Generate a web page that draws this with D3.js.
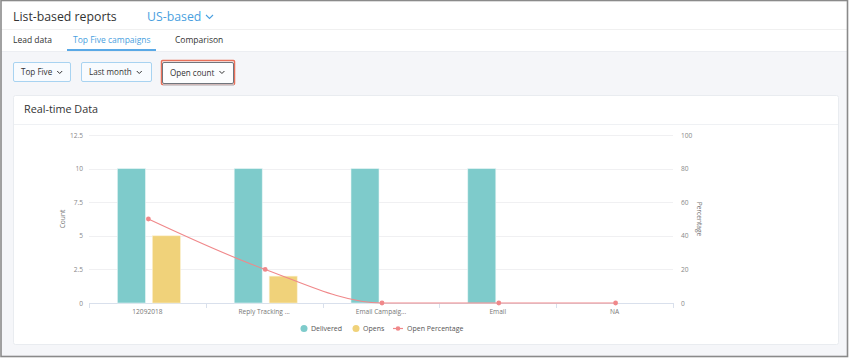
<!DOCTYPE html>
<html><head><meta charset="utf-8">
<script src="https://cdn.jsdelivr.net/npm/d3@7"></script>
<style>
html,body{margin:0;padding:0;background:#fff;}
svg{display:block;font-family:"Open Sans",sans-serif;}
</style></head>
<body>
<svg id="c" width="849" height="358"></svg>
<script>
const categories = ["12092018", "Reply Tracking ...", "Email Campaig...", "Email", "NA"];
const delivered = [10, 10, 10, 10, 0];
const opens = [5, 2, 0, 0, 0];
const openPct = [50, 20, 0, 0, 0];
const countTicks = [0, 2.5, 5, 7.5, 10, 12.5];
const pctTicks = [0, 20, 40, 60, 80, 100];
const tabs = ["Lead data", "Top Five campaigns", "Comparison"];
const filters = ["Top Five", "Last month", "Open count"];

const svg = d3.select("#c");

// page background
svg.append("rect").attr("x",0).attr("y",0).attr("width",849).attr("height",358).attr("fill","#fff");
svg.append("rect").attr("x",1).attr("y",51).attr("width",846).attr("height",306).attr("fill","#f5f6f9");
svg.append("line").attr("x1",1).attr("x2",847).attr("y1",29.5).attr("y2",29.5).attr("stroke","#f0f0f0");
svg.append("line").attr("x1",1).attr("x2",847).attr("y1",51.5).attr("y2",51.5).attr("stroke","#eceef2");

// header
svg.append("text").attr("x",13).attr("y",20.5).attr("font-size",12.3).attr("fill","#333").text("List-based reports");
svg.append("text").attr("x",147).attr("y",20.5).attr("font-size",12.3).attr("fill","#4a9fe0").text("US-based");
svg.append("path").attr("d","M206,15 l3.5,3.5 l3.5,-3.5").attr("fill","none").attr("stroke","#4a9fe0").attr("stroke-width",1.1);

// tabs
const tabX = [13, 73, 175];
tabs.forEach((t,i)=>{
  svg.append("text").attr("x",tabX[i]).attr("y",43).attr("font-size",8.5)
    .attr("fill", i===1 ? "#4a9fe0" : "#333").text(t);
});
svg.append("rect").attr("x",67).attr("y",49).attr("width",89).attr("height",2).attr("fill","#5aa9e6");

// filter buttons
const btn = [{x:13,w:57},{x:81,w:70},{x:162,w:71}];
svg.append("rect").attr("x",161.5).attr("y",60.5).attr("width",73).attr("height",24).attr("fill","none").attr("stroke","#e8705a").attr("stroke-width",1.5).attr("rx",1);
svg.append("rect").attr("x",163).attr("y",84).attr("width",71).attr("height",2).attr("fill","#c9cbd0").attr("opacity",0.8);
filters.forEach((f,i)=>{
  const b = btn[i];
  svg.append("rect").attr("x",b.x+0.5).attr("y",62.5).attr("width",b.w).attr("height",i===2?21:19)
    .attr("fill",i===2?"#fcfdfe":"#f8fbfe").attr("stroke",i===2?"#70757c":"#a8d3f1").attr("rx",1.5);
  const tx = svg.append("text").attr("x",b.x+8).attr("y",i===2?75.5:75).attr("font-size",8.1).attr("fill","#333").text(f);
  const w = tx.node().getComputedTextLength();
  svg.append("path").attr("d",`M${b.x+8+w+5},71 l2.5,2.5 l2.5,-2.5`).attr("fill","none").attr("stroke","#333").attr("stroke-width",1);
});

// card
svg.append("rect").attr("x",13.5).attr("y",95.5).attr("width",825).attr("height",249).attr("fill","#fff").attr("stroke","#e9ecf0").attr("rx",2);
svg.append("line").attr("x1",14).attr("x2",838).attr("y1",124.5).attr("y2",124.5).attr("stroke","#eff1f4");
svg.append("text").attr("x",24).attr("y",112.5).attr("font-size",10.8).attr("fill","#333").text("Real-time Data");

// scales
const x = d3.scaleBand().domain(categories).range([89,673]);
const y = d3.scaleLinear().domain([0,12.5]).range([303,135]);
const yp = d3.scaleLinear().domain([0,100]).range([303,135]);

// grid
svg.append("g").selectAll("line").data(countTicks.filter(d=>d>0)).join("line")
  .attr("x1",89).attr("x2",673).attr("y1",d=>Math.round(y(d))+0.5).attr("y2",d=>Math.round(y(d))+0.5)
  .attr("stroke","#f0f0f2");

// left axis
const gl = svg.append("g").attr("transform","translate(89,0)")
  .call(d3.axisLeft(y).tickValues(countTicks).tickSize(0).tickPadding(6).tickFormat(d=>d));
gl.select(".domain").remove();
gl.selectAll("text").attr("font-size",6.6).attr("fill","#888").attr("font-family","'Open Sans',sans-serif");

// right axis
const gr = svg.append("g").attr("transform","translate(673,0)")
  .call(d3.axisRight(yp).tickValues(pctTicks).tickSize(0).tickPadding(8));
gr.select(".domain").remove();
gr.selectAll("text").attr("font-size",6.6).attr("fill","#888").attr("font-family","'Open Sans',sans-serif");

// bottom axis
const gb = svg.append("g").attr("transform","translate(0,303)")
  .call(d3.axisBottom(x).tickSize(0).tickPadding(6));
gb.select(".domain").attr("stroke","#d9e0ec").attr("d","M89.5,0.5H673");
gb.selectAll("text").attr("font-size",6.6).attr("fill","#777").attr("font-family","'Open Sans',sans-serif");
const bounds = categories.map(c=>x(c)).concat([673]);
svg.append("g").selectAll("line").data(bounds).join("line")
  .attr("x1",d=>Math.round(d)+0.5).attr("x2",d=>Math.round(d)+0.5).attr("y1",303).attr("y2",308)
  .attr("stroke","#d9e0ec");

// axis titles
svg.append("text").attr("transform","translate(65,219) rotate(-90)").attr("text-anchor","middle")
  .attr("font-size",6.6).attr("fill","#777").text("Count");
svg.append("text").attr("transform","translate(697,219) rotate(90)").attr("text-anchor","middle")
  .attr("font-size",6.6).attr("fill","#777").text("Percentage");

// bars
const bw = 28;
const cx = d=>x(d)+x.bandwidth()/2;
svg.append("g").selectAll("rect").data(categories).join("rect")
  .attr("x",(d)=>cx(d)-30).attr("width",bw)
  .attr("y",(d,i)=>y(delivered[i])).attr("height",(d,i)=>y(0)-y(delivered[i]))
  .attr("fill","#7ecbcb").attr("stroke","#e4f3f3").attr("stroke-width",0.6);
svg.append("g").selectAll("rect").data(categories).join("rect")
  .attr("x",(d)=>cx(d)+5).attr("width",bw)
  .attr("y",(d,i)=>y(opens[i])).attr("height",(d,i)=>y(0)-y(opens[i]))
  .attr("fill","#f0d27a").attr("stroke","#fbf0cf").attr("stroke-width",0.6);

// line
const pts = categories.map((c,i)=>[cx(c)+1, yp(openPct[i])]);
svg.append("path").attr("d",d3.line().curve(d3.curveMonotoneX)(pts))
  .attr("fill","none").attr("stroke","#f0888a").attr("stroke-width",1.1);
svg.append("g").selectAll("circle").data(pts).join("circle")
  .attr("cx",d=>d[0]).attr("cy",d=>d[1]).attr("r",2.4).attr("fill","#f0888a");

// legend
const lg = svg.append("g").attr("font-size",7).attr("fill","#555");
lg.append("circle").attr("cx",304).attr("cy",328.5).attr("r",3.5).attr("fill","#7ecbcb");
lg.append("text").attr("x",311).attr("y",331).text("Delivered");
lg.append("circle").attr("cx",356).attr("cy",328.5).attr("r",3.5).attr("fill","#f0d27a");
lg.append("text").attr("x",363).attr("y",331).text("Opens");
lg.append("line").attr("x1",393).attr("x2",403).attr("y1",328.5).attr("y2",328.5).attr("stroke","#f0888a").attr("stroke-width",1.2);
lg.append("circle").attr("cx",398).attr("cy",328.5).attr("r",2.3).attr("fill","#f0888a");
lg.append("text").attr("x",407).attr("y",331).text("Open Percentage");

// outer frame
svg.append("rect").attr("x",1).attr("y",0.5).attr("width",846.5).attr("height",356).attr("fill","none").attr("stroke","#8a8a8a").attr("stroke-width",1.6);
</script>
</body></html>
